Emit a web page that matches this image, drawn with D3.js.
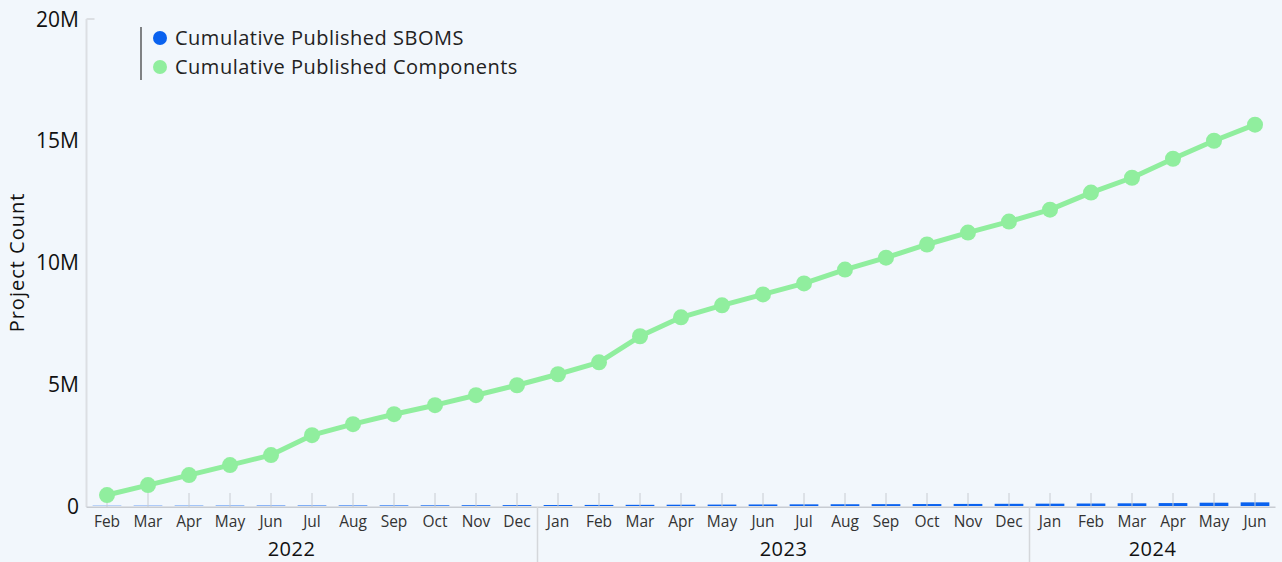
<!DOCTYPE html>
<html>
<head>
<meta charset="utf-8">
<script src="https://cdn.jsdelivr.net/npm/d3@7"></script>
<style>
  body { margin: 0; background: #f2f7fc; }
  svg { display: block; font-family: "Open Sans", Lato, sans-serif; }
</style>
</head>
<body>
<script>
// months Feb 2022 .. Jun 2024
var years = ["2022", "2023", "2024"];
var monthNames = ["Jan","Feb","Mar","Apr","May","Jun","Jul","Aug","Sep","Oct","Nov","Dec"];
var months = ["2022-02","2022-03","2022-04","2022-05","2022-06","2022-07","2022-08","2022-09","2022-10","2022-11","2022-12",
  "2023-01","2023-02","2023-03","2023-04","2023-05","2023-06","2023-07","2023-08","2023-09","2023-10","2023-11","2023-12",
  "2024-01","2024-02","2024-03","2024-04","2024-05","2024-06"];

var components = [450000, 860000, 1270000, 1680000, 2090000, 2910000, 3360000, 3770000, 4140000, 4550000, 4960000,
  5410000, 5900000, 6970000, 7750000, 8240000, 8690000, 9140000, 9710000, 10200000, 10740000, 11230000, 11680000,
  12170000, 12870000, 13480000, 14260000, 15000000, 15660000];

var sboms = [10000, 12000, 14000, 16000, 18000, 20000, 22000, 24000, 27000, 32000, 36000,
  40000, 44000, 48000, 53000, 58000, 63000, 68000, 72000, 76000, 80000, 85000, 90000,
  96000, 102000, 110000, 120000, 135000, 150000];

var yTicks = [0, 5000000, 10000000, 15000000, 20000000];

var W = 1282, H = 562;
var plotL = 86.5, plotR = 1275.5, plotT = 19, plotB = 506;

var svg = d3.select("body").append("svg")
  .attr("width", W)
  .attr("height", H);

var x = d3.scaleBand().domain(months).range([plotL, plotR]).paddingInner(0.3).paddingOuter(0.15);
var xc = function(m) { return x(m) + x.bandwidth() / 2; };
var step = x.step();
var y = d3.scaleLinear().domain([0, 20000000]).range([plotB, plotT]);

// y axis
svg.append("line")
  .attr("x1", plotL).attr("x2", plotL)
  .attr("y1", plotT).attr("y2", plotB + 1)
  .attr("stroke", "#dcdfe3").attr("stroke-width", 2);
svg.append("line")
  .attr("x1", plotL).attr("x2", plotL + 8)
  .attr("y1", plotT).attr("y2", plotT)
  .attr("stroke", "#dcdfe3").attr("stroke-width", 2);

svg.selectAll(".ylab")
  .data(yTicks)
  .enter().append("text")
  .attr("x", 79)
  .attr("y", function(d) { return y(d); })
  .attr("dy", "0.36em")
  .attr("text-anchor", "end")
  .attr("font-size", 21)
  .attr("fill", "#111")
  .text(function(d) { return d == 0 ? "0" : (d / 1000000) + "M"; });

svg.append("text")
  .attr("transform", "translate(24," + ((plotT + plotB) / 2) + ") rotate(-90)")
  .attr("text-anchor", "middle")
  .attr("font-size", 20)
  .attr("letter-spacing", 1)
  .attr("fill", "#111")
  .text("Project Count");

// bars (SBOMs)
svg.append("g").selectAll("rect")
  .data(sboms)
  .enter().append("rect")
  .attr("x", function(d, i) { return x(months[i]); })
  .attr("width", x.bandwidth())
  .attr("y", function(d) { return y(d); })
  .attr("height", function(d) { return plotB - y(d); })
  .attr("fill", "#0a62ef");

// inner ticks
svg.append("g").selectAll("line")
  .data(months)
  .enter().append("line")
  .attr("x1", xc).attr("x2", xc)
  .attr("y1", plotB - 13).attr("y2", plotB + 1)
  .attr("stroke", "#c8ccd2").attr("stroke-width", 1);

// x axis line
svg.append("line")
  .attr("x1", plotL).attr("x2", plotR)
  .attr("y1", plotB + 1.25).attr("y2", plotB + 1.25)
  .attr("stroke", "#c8ccd2").attr("stroke-width", 1.5);

// month labels
svg.selectAll(".mlab")
  .data(months)
  .enter().append("text")
  .attr("x", xc)
  .attr("y", 521)
  .attr("dy", "0.36em")
  .attr("text-anchor", "middle")
  .attr("font-size", 15.5)
  .attr("fill", "#333")
  .text(function(d) { return monthNames[+d.slice(5) - 1]; });

// year separators + labels
years.forEach(function(yr) {
  var inYear = months.filter(function(m) { return m.slice(0, 4) == yr; });
  var first = inYear[0], last = inYear[inYear.length - 1];
  var start = x(first) - (x.step() - x.bandwidth()) / 2;
  var end = x(last) + x.bandwidth() + (x.step() - x.bandwidth()) / 2;
  // year labels are centred as if the year were a full 12 months long
  var firstMonth = +first.slice(5);
  var fullStart = start - (firstMonth - 1) * step;
  var fullEnd = Math.min(fullStart + 12 * step, end);
  if (firstMonth == 1 && first != months[0]) {
    svg.append("line")
      .attr("x1", start).attr("x2", start)
      .attr("y1", plotB + 1).attr("y2", H)
      .attr("stroke", "#d4d7db").attr("stroke-width", 1.5);
  }
  svg.append("text")
    .attr("x", (fullStart + fullEnd) / 2)
    .attr("y", 549)
    .attr("dy", "0.36em")
    .attr("text-anchor", "middle")
    .attr("font-size", 20)
    .attr("letter-spacing", 0.5)
    .attr("fill", "#111")
    .text(yr);
});

// components line
var line = d3.line()
  .x(function(d, i) { return xc(months[i]); })
  .y(function(d) { return y(d); });

svg.append("path")
  .datum(components)
  .attr("d", line)
  .attr("fill", "none")
  .attr("stroke", "#90ee9e")
  .attr("stroke-width", 5)
  .attr("stroke-linejoin", "round");

svg.append("g").selectAll("circle")
  .data(components)
  .enter().append("circle")
  .attr("cx", function(d, i) { return xc(months[i]); })
  .attr("cy", function(d) { return y(d); })
  .attr("r", 8)
  .attr("fill", "#90ee9e");

// legend
var legend = [{name: "Cumulative Published SBOMS", color: "#0a62ef"},
              {name: "Cumulative Published Components", color: "#90ee9e"}];
svg.append("line")
  .attr("x1", 141).attr("x2", 141)
  .attr("y1", 27).attr("y2", 80)
  .attr("stroke", "#333").attr("stroke-width", 1.2);
var lg = svg.selectAll(".lg")
  .data(legend)
  .enter().append("g")
  .attr("transform", function(d, i) { return "translate(160," + (38 + i * 29) + ")"; });
lg.append("circle").attr("r", 7).attr("fill", function(d) { return d.color; });
lg.append("text")
  .attr("x", 15)
  .attr("dy", "0.36em")
  .attr("font-size", 20)
  .attr("letter-spacing", 0.5)
  .attr("fill", "#222")
  .text(function(d) { return d.name; });
</script>
</body>
</html>
